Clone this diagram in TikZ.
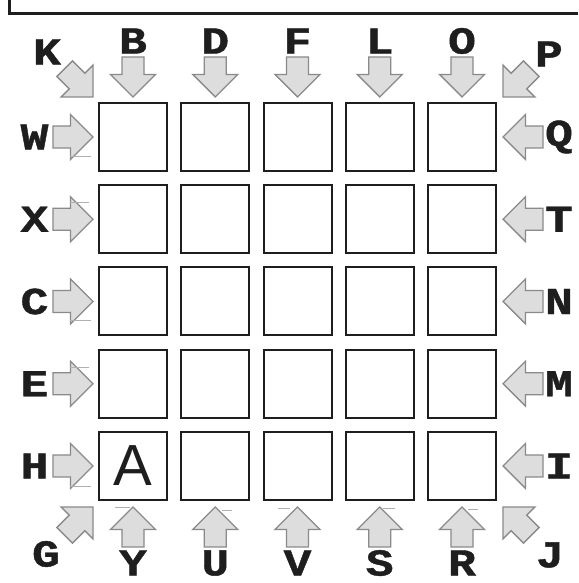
\documentclass[tikz,border=0pt]{standalone}
\usepackage{fontspec}
\newfontfamily\labfont{Liberation Mono}[UprightFont={* Bold}, BoldFont={* Bold}, FakeBold=1.1, FakeStretch=1.22]
\newfontfamily\afont{Liberation Sans}
\definecolor{arrowfill}{RGB}{221,221,221}
\definecolor{arrowline}{RGB}{138,138,138}
\definecolor{ink}{RGB}{30,30,30}
\definecolor{ghost}{RGB}{175,175,175}
\tikzset{
  cell/.style={draw=ink, line width=2pt, minimum size=68pt, inner sep=0pt},
  lab/.style={font=\labfont\fontsize{38}{38}\selectfont, inner sep=0pt, text=ink},
  ghostline/.style={draw=ghost, line width=0.8pt},
  barrow/.pic={\draw[arrowline, fill=arrowfill, line width=1.4pt, line join=miter]
     (0,0) -- (-22.5,22.5) -- (-22.5,11) -- (-40,11) -- (-40,-11) -- (-22.5,-11) -- (-22.5,-22.5) -- cycle;}
}
\begin{document}
\begin{tikzpicture}[x=1pt,y=1pt]
\useasboundingbox (0,0) rectangle (578,583);
% frame (only top and left edges visible)
\draw[ink, line width=2.4pt] (9.5,583) -- (9.5,569.5) -- (578,569.5);
% grid of squares
\foreach \i in {0,...,4}{
  \foreach \j in {0,...,4}{
    \pgfmathsetmacro{\cx}{133+82.25*\i}
    \pgfmathsetmacro{\cy}{446-82.25*\j}
    \node[cell] (c\i\j) at (\cx,\cy) {};
  }
}
\node[font=\afont\fontsize{58}{58}\selectfont, inner sep=0pt, text=ink] (A) at (c04.center) {A};
% column arrows and labels
\foreach \i/\t/\b in {0/B/Y,1/D/U,2/F/V,3/L/S,4/O/R}{
  \pgfmathsetmacro{\cx}{133+82.25*\i}
  \pic[rotate=-90] at (\cx,486) {barrow};
  \pic[rotate=90] at (\cx,76) {barrow};
  \node[lab] (t\t) at (\cx,542) {\t};
  \node[lab] (b\b) at (\cx,20) {\b};
}
% row arrows and labels
\foreach \j/\l/\r in {0/W/Q,1/X/T,2/C/N,3/E/M,4/H/I}{
  \pgfmathsetmacro{\cy}{446-82.25*\j}
  \pic at (93,\cy) {barrow};
  \pic[rotate=180] at (503,\cy) {barrow};
  \node[lab] (l\l) at (34.5,\cy) {\l};
  \node[lab] (r\r) at (559,\cy) {\r};
}
% corner arrows
\pic[rotate=-45] at (93,486) {barrow};
\pic[rotate=-135] at (503,486) {barrow};
\pic[rotate=45] at (93,76) {barrow};
\pic[rotate=135] at (503,76) {barrow};
\node[lab] (K) at (47,531) {K};
\node[lab] (P) at (549,529) {P};
\node[lab] (G) at (46,29) {G};
\node[lab] (J) at (550,28) {J};
% faint scan lines beside some arrows
\draw[ghostline] (70,427) -- (91,427);
\draw[ghostline] (70,381) -- (89,381);
\draw[ghostline] (70,263) -- (91,263);
\draw[ghostline] (70,216) -- (89,216);
\draw[ghostline] (70,97) -- (91,97);
\draw[ghostline] (115,76) -- (130,76);
\draw[ghostline] (222,73) -- (232,73);
\draw[ghostline] (278,75) -- (290,75);
\draw[ghostline] (383,75) -- (395,75);
\draw[ghostline] (468,74) -- (478,74);
\end{tikzpicture}
\end{document}
